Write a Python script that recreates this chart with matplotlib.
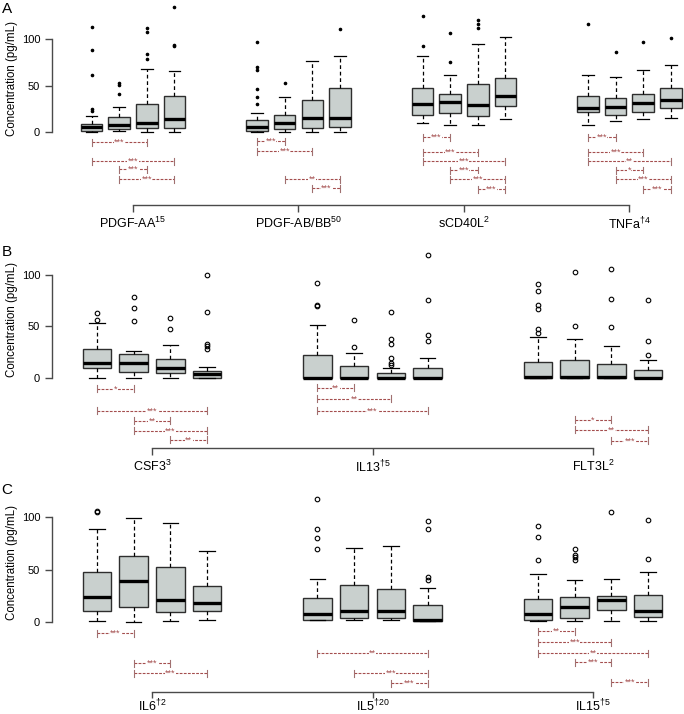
import matplotlib
matplotlib.use('Agg')
import matplotlib.pyplot as plt
import matplotlib.transforms as mtrans

plt.rcParams['font.family'] = ['Liberation Sans', 'DejaVu Sans']
plt.rcParams['mathtext.fontset'] = 'custom'
plt.rcParams['mathtext.rm'] = 'Liberation Sans'
plt.rcParams['mathtext.it'] = 'Liberation Sans:italic'
plt.rcParams['mathtext.bf'] = 'Liberation Sans:bold'

# ---------------- DATA ----------------
# Panel A
A_names = ['PDGF-AA', 'PDGF-AB/BB', 'sCD40L', 'TNFa']
A_sup = ['15', '50', '2', '†4']
A_med = [[5.7, 7.5, 9.3, 14.3], [5.7, 10.0, 14.7, 14.7], [30.0, 32.3, 29.4, 39.0], [25.4, 26.9, 31.2, 34.4]]
A_q1 = [[1.4, 3.6, 4.0, 4.3], [1.4, 3.2, 4.0, 5.4], [18.3, 20.4, 16.8, 27.6], [21.5, 17.9, 21.5, 25.8]]
A_q3 = [[9.0, 16.0, 30.0, 38.7], [12.9, 18.3, 34.4, 47.0], [47.3, 40.9, 51.6, 58.0], [38.4, 36.9, 41.2, 47.3]]
A_lo = [[0, 0.7, 0, 0], [0, 0, 0, 0], [9.7, 7.5, 7.9, 14.3], [7.9, 12.2, 14.0, 15.4]]
A_hi = [[17.2, 26.5, 67.7, 66.0], [20.4, 37.6, 76.0, 81.4], [81.4, 61.6, 95.0, 102.5], [61.6, 59.5, 66.7, 71.7]]
A_out = [
    [[113, 88, 61, 25, 23], [53, 51, 41], [111.5, 108, 84, 78], [134, 93.5, 92]],
    [[96.4, 69.5, 67, 46, 37.6, 30.5], [52.7], [], [111]],
    [[125, 93], [106.8, 75.6], [120, 115.8, 112], []],
    [[116.5], [86], [96.8], [100.7]],
]
A_sig = [
    [(1, 3, '***'), (1, 4, '***'), (2, 3, '***'), (2, 4, '***')],
    [(1, 2, '***'), (1, 3, '***'), (2, 4, '**'), (3, 4, '***')],
    [(1, 2, '***'), (1, 3, '***'), (1, 4, '***'), (2, 3, '***'), (2, 4, '***'), (3, 4, '***')],
    [(1, 2, '***'), (1, 3, '***'), (1, 4, '**'), (2, 3, '*'), (2, 4, '***'), (3, 4, '***')],
]

# Panel B
B_names = ['CSF3', 'IL13', 'FLT3L']
B_sup = ['3', '†5', '2']
B_med = [[14.5, 14.5, 9.6, 4.2], [0.6, 0.6, 0.6, 0.6], [1.0, 1.0, 1.0, 0.6]]
B_q1 = [[9.6, 6.4, 5.5, 0], [0, 0, 0, 0], [0, 0, 0, 0]]
B_q3 = [[28.0, 23.8, 18.3, 7.4], [22.2, 11.9, 5.5, 10.3], [16.0, 17.4, 14.1, 8.0]]
B_lo = [[0, 0, 0, 0], [0, 0, 0, 0], [0, 0, 0, 0]]
B_hi = [[53.7, 26.7, 31.8, 11.0], [51.8, 24.0, 10.3, 19.3], [39.9, 38.3, 31.2, 17.4]]
B_out = [
    [[62.7, 56], [78.8, 67.5, 55.6], [58.2, 48], [100, 63.7, 33, 31.5, 28.3]],
    [[92, 70.4, 69.5], [56.3, 30.5], [63.7, 38.3, 32.8, 20, 14.5, 13.2], [119, 75.2, 41.5, 36.3]],
    [[90.7, 84.2, 70.4, 67.2, 47.3, 44], [103, 50.5], [105.8, 76.2, 49.2], [75.6, 36.3, 22.8]],
]
B_sig = [
    [(1, 2, '*'), (1, 4, '***'), (2, 3, '**'), (2, 4, '***'), (3, 4, '**')],
    [(1, 2, '**'), (1, 3, '**'), (1, 4, '***')],
    [(2, 3, '*'), (2, 4, '**'), (3, 4, '***')],
]

# Panel C
C_names = ['IL6', 'IL5', 'IL15']
C_sup = ['†2', '†20', '†5']
C_med = [[23.6, 39.0, 20.4, 17.6], [7.7, 10.2, 10.2, 1.6], [7.7, 14.0, 20.4, 10.2]]
C_q1 = [[9.9, 14.0, 8.9, 9.9], [1.3, 3.8, 3.8, 0.6], [1.6, 3.2, 11.5, 4.8]]
C_q3 = [[47.3, 63.0, 52.0, 33.9], [22.4, 35.1, 31.3, 15.7], [21.4, 24.0, 24.3, 25.2]]
C_lo = [[0.3, 0, 1.0, 1.9], [1.3, 1.6, 1.6, 0.6], [0.6, 0.6, 0.6, 0.6]]
C_hi = [[88.5, 99.0, 94.6, 68.0], [40.9, 70.9, 72.5, 32.3], [46.0, 39.6, 40.6, 47.3]]
C_out = [
    [[105.8, 104.8], [], [], []],
    [[117.6, 88.5, 79.9, 70], [], [], [96.8, 89, 43, 40.3]],
    [[91.4, 81.5, 59.1], [70, 64.2, 61.7, 59.1], [104.8], [97.8, 60]],
]
C_sig = [
    [(1, 2, '***'), (2, 3, '***'), (2, 4, '***')],
    [(1, 4, '**'), (2, 4, '***'), (3, 4, '***')],
    [(1, 2, '**'), (1, 3, '***'), (1, 4, '**'), (2, 3, '***'), (3, 4, '***')],
]

Y_TICKS = [0, 50, 100]
Y_LABEL = 'Concentration (pg/mL)'

# ---------------- LAYOUT ----------------
W, H = 684, 714
fig = plt.figure(figsize=(W / 100, H / 100), dpi=100)

BOX_FC = '#C9D0CE'
BOX_EC = '#2e2e2e'
BR_C = '#A44E4E'
BR_CAP = '#A07070'
AX_C = '#4a4a4a'

# bracket rows (pixel y in figure) per group, in the same order as *_sig
A_rows = [[142, 161, 169, 179], [141, 151, 179, 188],
          [137, 152, 161, 170, 179, 189], [137, 152, 161, 170, 179, 189]]
B_rows = [[389, 411, 421, 431, 440], [388, 399, 411], [420, 430, 441]]
C_rows = [[633, 663, 673], [653, 673, 683], [631, 642, 653, 662, 682]]

panels = [
    dict(letter='A', names=A_names, sup=A_sup, med=A_med, q1=A_q1, q3=A_q3, lo=A_lo, hi=A_hi,
         out=A_out, sig=A_sig, rows=A_rows, top=0, bot=232, zero=132, ppu=0.93,
         ppx=27.58, x0=133, axis=205, letter_y=9, filled=True, pad=2.5, tlen=5),
    dict(letter='B', names=B_names, sup=B_sup, med=B_med, q1=B_q1, q3=B_q3, lo=B_lo, hi=B_hi,
         out=B_out, sig=B_sig, rows=B_rows, top=237, bot=476, zero=378.3, ppu=1.036,
         ppx=36.75, x0=152, axis=448, letter_y=252, filled=False, pad=2.5, tlen=5),
    dict(letter='C', names=C_names, sup=C_sup, med=C_med, q1=C_q1, q3=C_q3, lo=C_lo, hi=C_hi,
         out=C_out, sig=C_sig, rows=C_rows, top=478, bot=714, zero=621.7, ppu=1.044,
         ppx=36.75, x0=152, axis=691.7, letter_y=490, filled=False, pad=0.2, tlen=4),
]

LEFT = 52

for P in panels:
    ax = fig.add_axes([LEFT / W, 1 - P['bot'] / H, (W - LEFT) / W, (P['bot'] - P['top']) / H])
    ax.patch.set_alpha(0)
    ax.set_ylim((P['zero'] - P['bot']) / P['ppu'], (P['zero'] - P['top']) / P['ppu'])
    c0 = 2.5
    ax.set_xlim(c0 - (P['x0'] - LEFT) / P['ppx'], c0 + (W - P['x0']) / P['ppx'])

    ng = len(P['names'])
    stats, positions = [], []
    for g in range(ng):
        for k in range(4):
            stats.append(dict(med=P['med'][g][k], q1=P['q1'][g][k], q3=P['q3'][g][k],
                              whislo=P['lo'][g][k], whishi=P['hi'][g][k],
                              fliers=P['out'][g][k]))
            positions.append(6 * g + k + 1)

    if P['filled']:
        fp = dict(marker='o', markersize=1.6, markerfacecolor='black', markeredgecolor='black',
                  linestyle='none')
    else:
        fp = dict(marker='o', markersize=3.3, markerfacecolor='none', markeredgecolor='black',
                  markeredgewidth=0.8, linestyle='none')

    ax.bxp(stats, positions=positions, widths=0.78, patch_artist=True, manage_ticks=False,
           capwidths=0.42,
           boxprops=dict(facecolor=BOX_FC, edgecolor=BOX_EC, linewidth=1.0),
           medianprops=dict(color='black', linewidth=2.4, solid_capstyle='butt'),
           whiskerprops=dict(color='black', linestyle=(0, (3, 2.2)), linewidth=0.9),
           capprops=dict(color='black', linewidth=0.9),
           flierprops=fp)

    # significance brackets
    h = 3.5 / P['ppu']
    for g in range(ng):
        for (i, j, s), rpx in zip(P['sig'][g], P['rows'][g]):
            y = (P['zero'] - rpx) / P['ppu']
            x1 = 6 * g + i
            x2 = 6 * g + j
            ax.plot([x1, x2], [y, y], color=BR_C, lw=0.8, ls=(0, (2.5, 1.2)), clip_on=False)
            ax.plot([x1, x1], [y - h, y + h], color=BR_CAP, lw=0.8, clip_on=False)
            ax.plot([x2, x2], [y - h, y + h], color=BR_CAP, lw=0.8, clip_on=False)
            ax.text((x1 + x2) / 2, y, s, fontsize=6.5, color=BR_C, ha='center', va='center',
                    bbox=dict(facecolor='white', edgecolor='none', pad=0.2), clip_on=False)

    # axes styling
    for sp in ['top', 'right']:
        ax.spines[sp].set_visible(False)
    ax.spines['left'].set_bounds(0, 100)
    ax.spines['left'].set_color(AX_C)
    ax.spines['left'].set_linewidth(1.0)
    ax.set_yticks(Y_TICKS)
    ax.set_yticklabels([str(t) for t in Y_TICKS], fontsize=8)
    ax.tick_params(axis='y', length=5, width=1.0, color=AX_C, pad=3.5)

    centers = [6 * g + 2.5 for g in range(ng)]
    ax.spines['bottom'].set_position(('data', (P['zero'] - P['axis']) / P['ppu']))
    ax.spines['bottom'].set_bounds(centers[0], centers[-1])
    ax.spines['bottom'].set_color(AX_C)
    ax.spines['bottom'].set_linewidth(1.0)
    ax.set_xticks(centers)
    ax.set_xticklabels([n + r'$^{\mathregular{' + s + '}}$' for n, s in zip(P['names'], P['sup'])],
                       fontsize=9)
    ax.tick_params(axis='x', length=P['tlen'], width=1.0, color=AX_C, pad=P['pad'])

    tr = mtrans.blended_transform_factory(fig.transFigure, ax.transData)
    ax.text(12 / W, 57, Y_LABEL, transform=tr, rotation=90, fontsize=8.3,
            ha='center', va='center')
    fig.text(7 / W, 1 - P['letter_y'] / H, P['letter'], fontsize=11, ha='center', va='center')

fig.savefig('out.png', dpi=100)
